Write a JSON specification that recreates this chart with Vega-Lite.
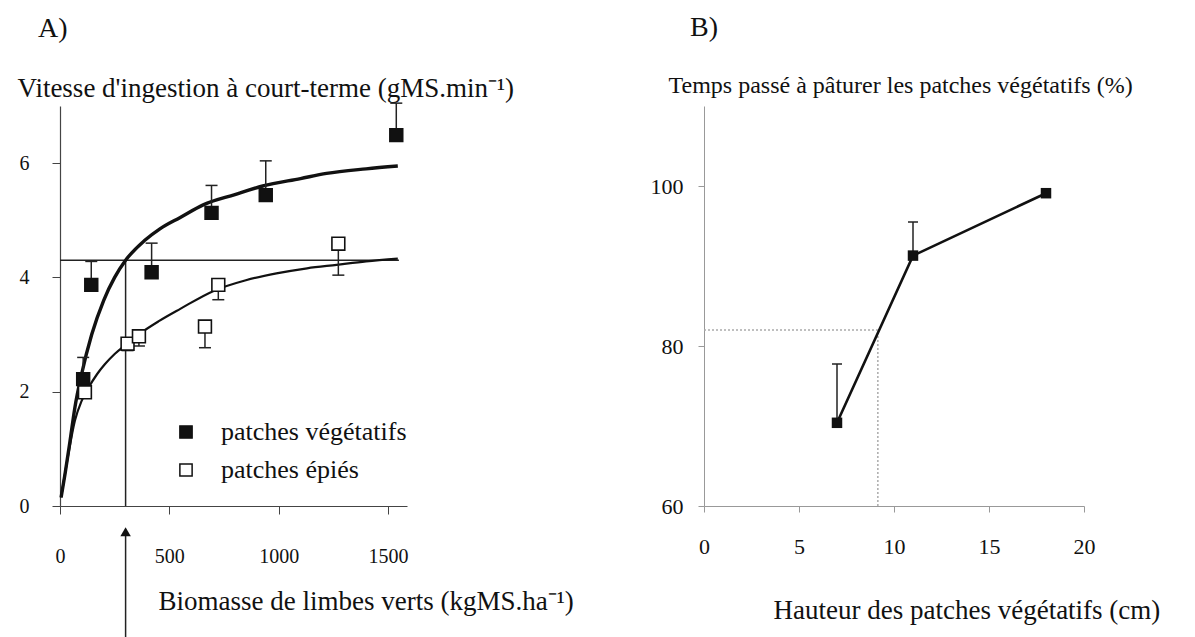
{
  "$schema": "https://vega.github.io/schema/vega-lite/v6.json",
  "background": "white",
  "padding": {"left": 17, "top": 14, "right": 0, "bottom": 0},
  "autosize": {"type": "pad"},
  "spacing": 297,
  "bounds": "flush",
  "config": {
    "view": {"stroke": null},
    "font": "Liberation Serif",
    "axis": {"grid": false, "labelFont": "Liberation Serif", "titleFont": "Liberation Serif", "labelColor": "#111", "titleColor": "#111", "titleFontWeight": "normal", "labelFlush": false, "labelOverlap": false, "format": "d"},
    "title": {"font": "Liberation Serif", "fontWeight": "normal", "color": "#111"},
    "legend": {"labelFont": "Liberation Serif", "labelColor": "#111"}
  },
  "datasets": {
    "pointsA": [
      {"serie": "patches végétatifs", "biomasse": 106, "vitesse": 2.22, "erreur": 2.6},
      {"serie": "patches végétatifs", "biomasse": 143, "vitesse": 3.87, "erreur": 4.28},
      {"serie": "patches végétatifs", "biomasse": 419, "vitesse": 4.09, "erreur": 4.6},
      {"serie": "patches végétatifs", "biomasse": 693, "vitesse": 5.13, "erreur": 5.61},
      {"serie": "patches végétatifs", "biomasse": 941, "vitesse": 5.44, "erreur": 6.04},
      {"serie": "patches végétatifs", "biomasse": 1538, "vitesse": 6.49, "erreur": 7.05},
      {"serie": "patches épiés", "biomasse": 114, "vitesse": 1.99, "erreur": null},
      {"serie": "patches épiés", "biomasse": 309, "vitesse": 2.84, "erreur": 2.72},
      {"serie": "patches épiés", "biomasse": 361, "vitesse": 2.97, "erreur": 2.8},
      {"serie": "patches épiés", "biomasse": 663, "vitesse": 3.14, "erreur": 2.77},
      {"serie": "patches épiés", "biomasse": 724, "vitesse": 3.87, "erreur": 3.61},
      {"serie": "patches épiés", "biomasse": 1273, "vitesse": 4.59, "erreur": 4.04}
    ],
    "courbesA": [
      {"courbe": "végétatifs", "biomasse": 5, "vitesse": 0.15},
      {"courbe": "végétatifs", "biomasse": 23, "vitesse": 0.56},
      {"courbe": "végétatifs", "biomasse": 46, "vitesse": 1.14},
      {"courbe": "végétatifs", "biomasse": 68, "vitesse": 1.72},
      {"courbe": "végétatifs", "biomasse": 99, "vitesse": 2.31},
      {"courbe": "végétatifs", "biomasse": 145, "vitesse": 3.0},
      {"courbe": "végétatifs", "biomasse": 200, "vitesse": 3.6},
      {"courbe": "végétatifs", "biomasse": 250, "vitesse": 4.0},
      {"courbe": "végétatifs", "biomasse": 300, "vitesse": 4.3},
      {"courbe": "végétatifs", "biomasse": 388, "vitesse": 4.65},
      {"courbe": "végétatifs", "biomasse": 457, "vitesse": 4.85},
      {"courbe": "végétatifs", "biomasse": 550, "vitesse": 5.05},
      {"courbe": "végétatifs", "biomasse": 655, "vitesse": 5.27},
      {"courbe": "végétatifs", "biomasse": 800, "vitesse": 5.45},
      {"courbe": "végétatifs", "biomasse": 927, "vitesse": 5.6},
      {"courbe": "végétatifs", "biomasse": 1100, "vitesse": 5.73},
      {"courbe": "végétatifs", "biomasse": 1219, "vitesse": 5.82},
      {"courbe": "végétatifs", "biomasse": 1400, "vitesse": 5.9},
      {"courbe": "végétatifs", "biomasse": 1545, "vitesse": 5.95},
      {"courbe": "épiés", "biomasse": 5, "vitesse": 0.15},
      {"courbe": "épiés", "biomasse": 38, "vitesse": 0.9},
      {"courbe": "épiés", "biomasse": 68, "vitesse": 1.49},
      {"courbe": "épiés", "biomasse": 99, "vitesse": 1.84},
      {"courbe": "épiés", "biomasse": 129, "vitesse": 2.06},
      {"courbe": "épiés", "biomasse": 170, "vitesse": 2.31},
      {"courbe": "épiés", "biomasse": 205, "vitesse": 2.48},
      {"courbe": "épiés", "biomasse": 250, "vitesse": 2.66},
      {"courbe": "épiés", "biomasse": 297, "vitesse": 2.81},
      {"courbe": "épiés", "biomasse": 370, "vitesse": 3.03},
      {"courbe": "épiés", "biomasse": 450, "vitesse": 3.23},
      {"courbe": "épiés", "biomasse": 550, "vitesse": 3.45},
      {"courbe": "épiés", "biomasse": 700, "vitesse": 3.76},
      {"courbe": "épiés", "biomasse": 850, "vitesse": 3.95},
      {"courbe": "épiés", "biomasse": 990, "vitesse": 4.07},
      {"courbe": "épiés", "biomasse": 1130, "vitesse": 4.16},
      {"courbe": "épiés", "biomasse": 1265, "vitesse": 4.22},
      {"courbe": "épiés", "biomasse": 1400, "vitesse": 4.28},
      {"courbe": "épiés", "biomasse": 1545, "vitesse": 4.33}
    ],
    "reperesA": [
      {"biomasse": 0, "vitesse": 4.3, "biomasse_fin": 1550, "vitesse_fin": 4.3},
      {"biomasse": 300, "vitesse": 0, "biomasse_fin": 300, "vitesse_fin": 4.3}
    ],
    "flecheA": [
      {"biomasse": 300, "vitesse": -0.45, "vitesse_fin": -2.6}
    ],
    "pointsB": [
      {"hauteur": 7, "temps": 70.4, "erreur": 77.75},
      {"hauteur": 11, "temps": 91.3, "erreur": 95.5},
      {"hauteur": 18, "temps": 99.1, "erreur": null}
    ],
    "reperesB": [
      {"hauteur": 0, "temps": 82, "hauteur_fin": 9.15, "temps_fin": 82},
      {"hauteur": 9.15, "temps": 60, "hauteur_fin": 9.15, "temps_fin": 82}
    ]
  },
  "hconcat": [
    {
      "width": 347,
      "height": 400,
      "title": {"text": "A)", "anchor": "start", "frame": "group", "fontSize": 28, "dx": -22, "offset": 31},
      "layer": [
        {
          "data": {"name": "reperesA"},
          "mark": {"type": "rule", "color": "#222", "strokeWidth": 1.5},
          "encoding": {
            "x": {"field": "biomasse", "type": "quantitative",
              "scale": {"domain": [0, 1587], "nice": false},
              "axis": {"values": [0, 500, 1000, 1500], "title": "Biomasse de limbes verts (kgMS.ha⁻¹)", "titleX": 98, "titleY": 95, "titleAlign": "left", "titleBaseline": "middle", "titleFontSize": 27, "labelFontSize": 20, "tickSize": 8, "labelPadding": 42, "labelBaseline": "middle", "domainColor": "#444", "tickColor": "#444", "domainWidth": 1.2}},
            "x2": {"field": "biomasse_fin"},
            "y": {"field": "vitesse", "type": "quantitative",
              "scale": {"domain": [0, 7], "nice": false},
              "axis": {"values": [0, 2, 4, 6], "title": "Vitesse d'ingestion à court-terme (gMS.min⁻¹)", "titleAngle": 0, "titleX": -43, "titleY": -18, "titleAlign": "left", "titleBaseline": "middle", "titleFontSize": 27, "labelFontSize": 20, "tickSize": 8, "labelPadding": 23, "domainColor": "#444", "tickColor": "#444", "domainWidth": 1.2}},
            "y2": {"field": "vitesse_fin"}
          }
        },
        {
          "data": {"name": "flecheA"},
          "mark": {"type": "rule", "color": "#222", "strokeWidth": 1.5},
          "encoding": {
            "x": {"field": "biomasse", "type": "quantitative"},
            "y": {"field": "vitesse", "type": "quantitative"},
            "y2": {"field": "vitesse_fin"}
          }
        },
        {
          "data": {"name": "flecheA"},
          "mark": {"type": "point", "shape": "triangle-up", "filled": true, "color": "#111", "size": 110, "opacity": 1},
          "encoding": {
            "x": {"field": "biomasse", "type": "quantitative"},
            "y": {"field": "vitesse", "type": "quantitative"}
          }
        },
        {
          "data": {"name": "courbesA"},
          "mark": {"type": "line", "color": "#111", "interpolate": "monotone"},
          "encoding": {
            "x": {"field": "biomasse", "type": "quantitative"},
            "y": {"field": "vitesse", "type": "quantitative"},
            "detail": {"field": "courbe"},
            "strokeWidth": {"field": "courbe", "type": "nominal", "scale": {"domain": ["végétatifs", "épiés"], "range": [3.4, 2.2]}, "legend": null}
          }
        },
        {
          "data": {"name": "pointsA"},
          "transform": [{"filter": "datum.erreur != null"}],
          "mark": {"type": "rule", "color": "#222", "strokeWidth": 1.5},
          "encoding": {
            "x": {"field": "biomasse", "type": "quantitative"},
            "y": {"field": "vitesse", "type": "quantitative"},
            "y2": {"field": "erreur"}
          }
        },
        {
          "data": {"name": "pointsA"},
          "transform": [{"filter": "datum.erreur != null"}],
          "mark": {"type": "tick", "orient": "horizontal", "color": "#222", "size": 12, "thickness": 1.5, "opacity": 1},
          "encoding": {
            "x": {"field": "biomasse", "type": "quantitative"},
            "y": {"field": "erreur", "type": "quantitative"}
          }
        },
        {
          "data": {"name": "pointsA"},
          "mark": {"type": "point", "shape": "square", "size": 165, "stroke": "#111", "strokeWidth": 1.6, "opacity": 1, "filled": true},
          "encoding": {
            "x": {"field": "biomasse", "type": "quantitative"},
            "y": {"field": "vitesse", "type": "quantitative"},
            "fill": {"field": "serie", "type": "nominal",
              "scale": {"domain": ["patches végétatifs", "patches épiés"], "range": ["#111111", "#ffffff"]},
              "legend": {"title": null, "orient": "none", "legendX": 113, "legendY": 313, "labelFontSize": 26, "labelLimit": 0, "symbolType": "square", "symbolSize": 150, "symbolStrokeColor": "#111", "symbolStrokeWidth": 1.5, "labelOffset": 22, "rowPadding": 12, "padding": 0}}
          }
        }
      ]
    },
    {
      "width": 380,
      "height": 400,
      "title": {"text": "B)", "anchor": "start", "frame": "group", "fontSize": 28, "dx": -14, "offset": 31},
      "layer": [
        {
          "data": {"name": "reperesB"},
          "mark": {"type": "rule", "color": "#aaa", "strokeWidth": 1.5, "strokeDash": [2, 2]},
          "encoding": {
            "x": {"field": "hauteur", "type": "quantitative",
              "scale": {"domain": [0, 20], "nice": false},
              "axis": {"values": [0, 5, 10, 15, 20], "title": "Hauteur des patches végétatifs (cm)", "titleX": 69, "titleY": 104, "titleAlign": "left", "titleBaseline": "middle", "titleFontSize": 27, "labelFontSize": 22, "tickSize": 6, "labelPadding": 34, "labelBaseline": "middle", "domainColor": "#999", "tickColor": "#999"}},
            "x2": {"field": "hauteur_fin"},
            "y": {"field": "temps", "type": "quantitative",
              "scale": {"domain": [60, 110], "nice": false},
              "axis": {"values": [60, 80, 100], "title": "Temps passé à pâturer les patches végétatifs (%)", "titleAngle": 0, "titleX": -36, "titleY": -21, "titleAlign": "left", "titleBaseline": "middle", "titleFontSize": 24, "labelFontSize": 22, "tickSize": 6, "labelPadding": 15, "domainColor": "#999", "tickColor": "#999"}},
            "y2": {"field": "temps_fin"}
          }
        },
        {
          "data": {"name": "pointsB"},
          "transform": [{"filter": "datum.erreur != null"}],
          "mark": {"type": "rule", "color": "#222", "strokeWidth": 1.5},
          "encoding": {
            "x": {"field": "hauteur", "type": "quantitative"},
            "y": {"field": "temps", "type": "quantitative"},
            "y2": {"field": "erreur"}
          }
        },
        {
          "data": {"name": "pointsB"},
          "transform": [{"filter": "datum.erreur != null"}],
          "mark": {"type": "tick", "orient": "horizontal", "color": "#222", "size": 10, "thickness": 1.5, "opacity": 1},
          "encoding": {
            "x": {"field": "hauteur", "type": "quantitative"},
            "y": {"field": "erreur", "type": "quantitative"}
          }
        },
        {
          "data": {"name": "pointsB"},
          "mark": {"type": "line", "color": "#111", "strokeWidth": 2.6},
          "encoding": {
            "x": {"field": "hauteur", "type": "quantitative"},
            "y": {"field": "temps", "type": "quantitative"}
          }
        },
        {
          "data": {"name": "pointsB"},
          "mark": {"type": "point", "shape": "square", "size": 110, "filled": true, "color": "#111", "opacity": 1},
          "encoding": {
            "x": {"field": "hauteur", "type": "quantitative"},
            "y": {"field": "temps", "type": "quantitative"}
          }
        }
      ]
    }
  ]
}
